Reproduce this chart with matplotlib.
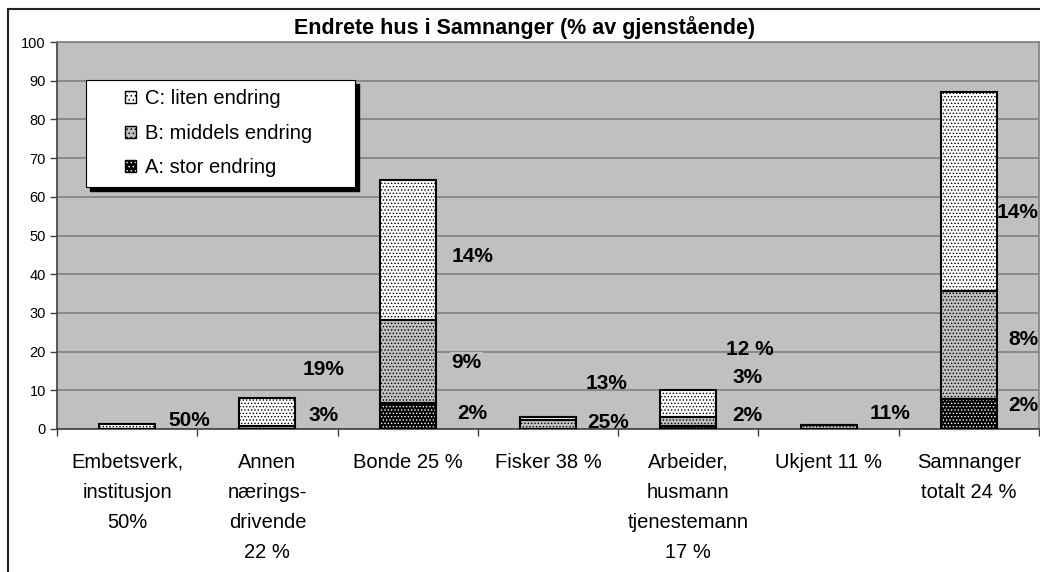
import numpy as np
import matplotlib
matplotlib.use('Agg')
import matplotlib.pyplot as plt
from matplotlib.patches import Patch, Rectangle
from matplotlib.legend_handler import HandlerTuple

# data
categories = ["Embetsverk,\ninstitusjon\n50%", "Annen\nnærings-\ndrivende\n22 %",
              "Bonde 25 %", "Fisker 38 %", "Arbeider,\nhusmann\ntjenestemann\n17 %",
              "Ukjent 11 %", "Samnanger\ntotalt 24 %"]
stor_A = [0, 0, 6.6, 0, 0.9, 0, 7.7]
middels_B = [0, 0.9, 21.6, 2.4, 2.3, 1.1, 28.0]
liten_C = [1.2, 7.2, 36.1, 0.7, 7.0, 0, 51.3]
series_names = ["A: stor endring", "B: middels endring", "C: liten endring"]

# hand-placed data labels (as in the original sheet)
label_text = ["50%", "19%", "3%", "14%", "9%", "2%", "13%", "25%",
              "12 %", "3%", "2%", "11%", "14%", "8%", "2%"]
label_x = [0.44, 1.40, 1.40, 2.46, 2.42, 2.46, 3.42, 3.43,
           4.44, 4.42, 4.42, 5.44, 6.35, 6.39, 6.39]
label_y = [2.3, 15.5, 3.6, 44.7, 17.1, 4.1, 11.8, 1.8,
           20.5, 13.2, 3.4, 3.9, 56.0, 23.0, 6.2]
boxed = [2, 4]

plt.rcParams['font.family'] = ['Liberation Sans', 'DejaVu Sans']
plt.rcParams['hatch.linewidth'] = 0.6

fig = plt.figure(figsize=(10.4, 5.72), dpi=100)
ax = fig.add_axes([57/1040, 1 - 429/572, 982/1040, 387/572])
ax.set_facecolor('#c0c0c0')

x = np.arange(len(categories))
styles = [('black', 'white'), ('#c0c0c0', 'black'), ('white', 'black')]
bottom = np.zeros(len(categories))
handles = []
for vals, (face, hcol), name in zip([stor_A, middels_B, liten_C], styles, series_names):
    vals = np.array(vals)
    ax.bar(x, vals, 0.4, bottom=bottom, color=face, edgecolor=hcol,
           linewidth=0, hatch='.....', zorder=2)
    ax.bar(x, vals, 0.4, bottom=bottom, fill=False, edgecolor='black',
           linewidth=1.5, zorder=3)
    handles.append((Patch(facecolor=face, edgecolor=hcol, hatch='....', linewidth=0),
                    Patch(fill=False, edgecolor='black', linewidth=1)))
    bottom += vals

for i, t in enumerate(label_text):
    kw = {}
    if i in boxed:
        kw['bbox'] = dict(facecolor='#c0c0c0', edgecolor='none', pad=1)
    ax.text(label_x[i], label_y[i], t, ha='center', va='center', fontsize=15,
            fontweight='bold', zorder=6, clip_on=False, **kw)

ax.set_xlim(-0.5, 6.5)
ax.set_ylim(0, 100)
ax.set_yticks(np.arange(0, 101, 10))
ax.yaxis.grid(True, color='#808080', linewidth=1.2)
ax.set_axisbelow(True)
ax.tick_params(axis='y', labelsize=10.5, length=5, width=1, color='#404040', pad=3)

ax.set_xticks(np.arange(-0.5, 7, 1))
ax.set_xticklabels([])
ax.set_xticks(x, minor=True)
ax.set_xticklabels(categories, minor=True, fontsize=14.5, linespacing=1.75)
ax.tick_params(axis='x', which='major', length=5, width=1, color='#404040')
ax.tick_params(axis='x', which='minor', length=0, pad=17)

for s in ['top', 'right']:
    ax.spines[s].set_color('#808080')
    ax.spines[s].set_linewidth(1.2)
for s in ['left', 'bottom']:
    ax.spines[s].set_color('#404040')
    ax.spines[s].set_linewidth(1.2)

# legend box with a hard black shadow, drawn in pixel-derived axes fractions
tr = ax.transAxes
box_x0, box_x1 = (86 - 57)/982, (355 - 57)/982
box_y0, box_y1 = (429 - 187)/387, (429 - 80)/387
ax.add_patch(Rectangle((box_x0 + 4/982, box_y0 - 4/387), box_x1 - box_x0, box_y1 - box_y0,
                       transform=tr, facecolor='black', edgecolor='black', zorder=4.5))
ax.add_patch(Rectangle((box_x0, box_y0), box_x1 - box_x0, box_y1 - box_y0,
                       transform=tr, facecolor='white', edgecolor='black', linewidth=0.8,
                       zorder=4.6))
leg = ax.legend(handles[::-1], series_names[::-1],
                handler_map={tuple: HandlerTuple(ndivide=1, pad=0)},
                loc='upper left', bbox_to_anchor=((125 - 57)/982, (429 - 89)/387),
                borderaxespad=0, borderpad=0, frameon=False,
                fontsize=14.5, handlelength=0.55, handleheight=0.55, handletextpad=0.45,
                labelspacing=0.78)
leg.set_zorder(5)

fig.text(525/1040, 1 - 28/572, "Endrete hus i Samnanger (% av gjenstående)",
         ha='center', va='center', fontsize=15.5, fontweight='bold')

fig.patches.append(Rectangle((8/1040, -0.1), 1.2, (572 - 9)/572 + 0.1,
                             transform=fig.transFigure, fill=False,
                             edgecolor='#222222', linewidth=1.5))

fig.savefig('out.png', dpi=100)
